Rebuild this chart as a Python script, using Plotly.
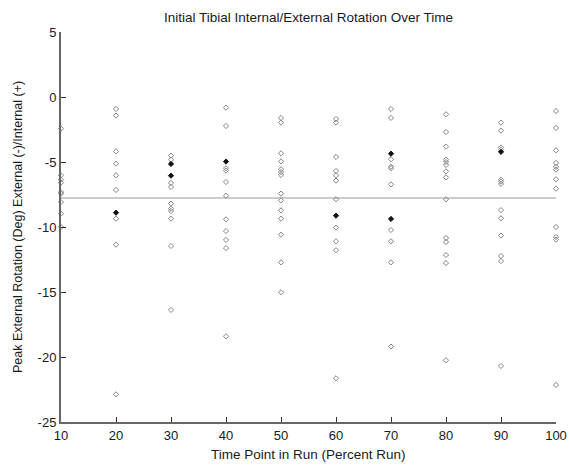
import plotly.graph_objects as go

title = "Initial Tibial Internal/External Rotation Over Time"
x_title = "Time Point in Run (Percent Run)"
y_title = "Peak External Rotation (Deg) External (-)/Internal (+)"

time_points = [10, 20, 30, 40, 50, 60, 70, 80, 90, 100]

# Individual values at each time point (percent run)
vals_10 = [-2.43, -6.02, -6.36, -6.59, -7.31, -7.44, -8.08, -8.97, -10.0]
vals_20 = [-0.92, -1.43, -4.18, -5.13, -6.02, -7.15, -9.36, -11.36, -22.87]
vals_30 = [-4.51, -4.82, -6.61, -6.92, -8.2, -8.59, -8.77, -9.36, -11.46, -16.38]
vals_40 = [-0.82, -2.23, -5.48, -5.66, -6.54, -7.59, -9.41, -10.31, -11.0, -11.62, -18.41]
vals_50 = [-1.61, -1.97, -4.33, -4.95, -5.56, -5.77, -6.0, -7.43, -7.95, -8.72, -9.36, -10.59, -12.72, -15.02]
vals_60 = [-1.69, -1.97, -4.61, -5.69, -6.02, -6.43, -7.87, -10.05, -11.1, -11.79, -21.64]
vals_70 = [-0.92, -1.61, -4.79, -5.36, -5.48, -6.72, -10.23, -11.1, -12.72, -19.2]
vals_80 = [-1.33, -2.69, -3.82, -4.82, -5.0, -5.23, -5.72, -6.18, -7.87, -10.85, -11.15, -12.15, -12.77, -20.25]
vals_90 = [-1.97, -2.59, -3.88, -4.05, -6.36, -6.51, -6.69, -8.7, -9.33, -10.66, -12.23, -12.62, -20.69]
vals_100 = [-1.08, -2.38, -4.1, -5.07, -5.38, -5.59, -6.33, -7.05, -10.0, -10.77, -10.97, -22.15]

# Overlapping (coincident) points, drawn dark
overlap_x = [20, 30, 30, 40, 60, 70, 70, 90]
overlap_y = [-8.9, -5.15, -6.05, -4.97, -9.13, -4.36, -9.38, -4.22]

baseline_mean = -7.77

x_ticks = [10, 20, 30, 40, 50, 60, 70, 80, 90, 100]
y_ticks = [-25, -20, -15, -10, -5, 0, 5]

all_vals = [vals_10, vals_20, vals_30, vals_40, vals_50,
            vals_60, vals_70, vals_80, vals_90, vals_100]
xs, ys = [], []
for t, v in zip(time_points, all_vals):
    xs += [t] * len(v)
    ys += v

fig = go.Figure()
fig.add_trace(go.Scatter(
    x=[x_ticks[0], x_ticks[-1]], y=[baseline_mean, baseline_mean],
    mode="lines", line=dict(color="#cccccc", width=2),
    hoverinfo="skip", showlegend=False, cliponaxis=False))
fig.add_trace(go.Scatter(
    x=xs, y=ys, mode="markers",
    marker=dict(symbol="diamond-open", size=4, color="#858585",
                line=dict(width=1, color="#858585")),
    showlegend=False, cliponaxis=False))
fig.add_trace(go.Scatter(
    x=overlap_x, y=overlap_y, mode="markers",
    marker=dict(symbol="diamond", size=4, color="#111111",
                line=dict(width=1, color="#111111")),
    showlegend=False, cliponaxis=False))

W, H = 569, 467
ML, MR, MT, MB = 61, 13, 32, 45
plot_w, plot_h = W - ML - MR, H - MT - MB

font_family = "Liberation Sans, Arial, sans-serif"
txt = "#1a1a1a"
fig.update_layout(
    width=W, height=H,
    margin=dict(l=ML, r=MR, t=MT, b=MB, autoexpand=False),
    paper_bgcolor="white", plot_bgcolor="white",
    font=dict(family=font_family, size=12, color=txt),
    title=dict(text=title, x=0.5, xanchor="center", y=1 - 17 / H, yanchor="middle",
               xref="paper", font=dict(size=13.5, color=txt)),
    showlegend=False,
    annotations=[
        dict(text=x_title, xref="paper", yref="paper", x=0.5, y=-33 / plot_h,
             xanchor="center", yanchor="middle", showarrow=False,
             font=dict(size=13.5, color=txt)),
        dict(text=y_title, xref="paper", yref="paper", x=-43 / plot_w, y=0.5,
             xanchor="center", yanchor="middle", showarrow=False, textangle=-90,
             font=dict(size=12.5, color=txt)),
    ],
)
fig.update_xaxes(
    range=[10, 100], tickvals=x_ticks, ticktext=[str(t) for t in x_ticks],
    showgrid=False, zeroline=False, showline=True, linecolor="#666666",
    linewidth=2, ticks="inside", ticklen=5, tickcolor="#333333", tickwidth=1,
    tickfont=dict(size=13, color=txt), layer="above traces",
    automargin=False,
)
fig.update_yaxes(
    range=[-25, 5], tickvals=y_ticks, ticktext=[str(t) for t in y_ticks],
    showgrid=False, zeroline=False, showline=True, linecolor="#666666",
    linewidth=2, ticks="inside", ticklen=5, tickcolor="#333333", tickwidth=1,
    tickfont=dict(size=13, color=txt), layer="above traces",
    automargin=False,
)

# Remove the default 8px page margin so the figure fills the window exactly.
fig.write_html("out.html", config={"displayModeBar": False},
               post_script="document.body.style.margin='0';document.body.style.overflow='hidden';")
